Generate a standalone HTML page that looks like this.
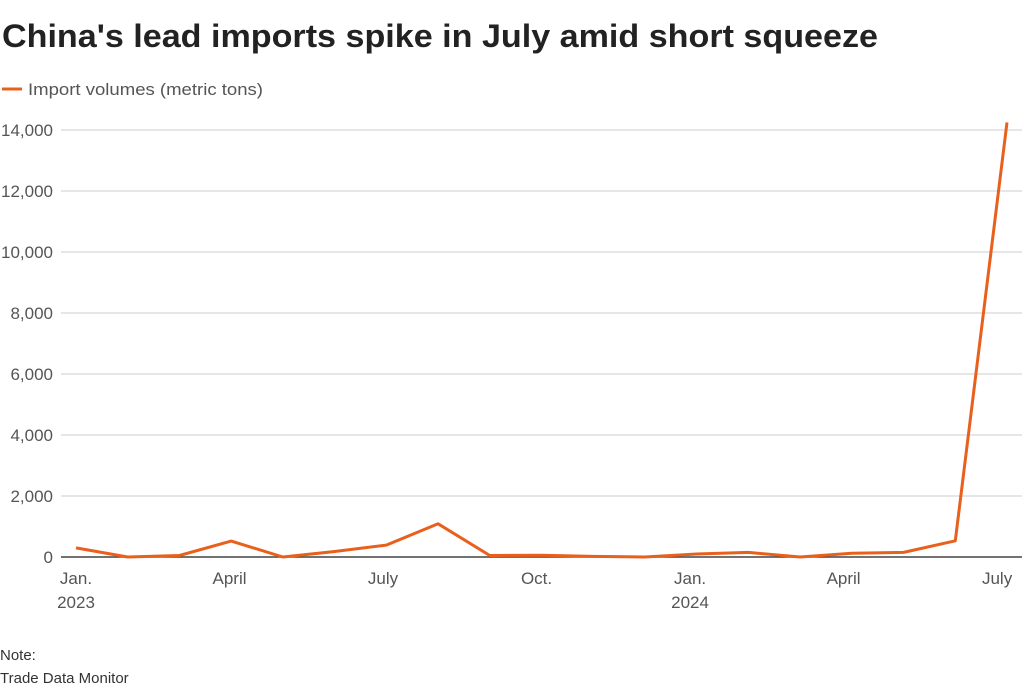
<!DOCTYPE html>
<html><head><meta charset="utf-8">
<style>
body{margin:0;background:#fff;font-family:"Liberation Sans",sans-serif;}
svg text{font-family:"Liberation Sans",sans-serif;}
</style></head>
<body>
<svg id="chart" width="1024" height="694" viewBox="0 0 1024 694">
  <text x="2" y="47" font-size="32" font-weight="bold" fill="#222" textLength="876" lengthAdjust="spacingAndGlyphs">China's lead imports spike in July amid short squeeze</text>
  <g>
    <line x1="2" y1="89" x2="22" y2="89" stroke="#e8601c" stroke-width="3"/>
    <text x="28" y="95" font-size="17" fill="#555" textLength="235" lengthAdjust="spacingAndGlyphs">Import volumes (metric tons)</text>
  </g>
  <g id="grid"></g>
  <g id="xticks"></g>
  <path id="line" fill="none" stroke="#e8601c" stroke-width="3" stroke-linejoin="round"/>
  <text x="0" y="660" font-size="15" fill="#333">Note:</text>
  <text x="0" y="683" font-size="15" fill="#333">Trade Data Monitor</text>
</svg>
<script>
const months = ["Jan23","Feb23","Mar23","Apr23","May23","Jun23","Jul23","Aug23","Sep23","Oct23","Nov23","Dec23","Jan24","Feb24","Mar24","Apr24","May24","Jun24","Jul24"];
const values = [300,0,50,520,0,180,390,1090,50,60,20,0,100,150,0,120,150,530,14250];
const yTicks = [0,2000,4000,6000,8000,10000,12000,14000];
const yTickLabels = ["0","2,000","4,000","6,000","8,000","10,000","12,000","14,000"];
const xTickIdx = [0,3,6,9,12,15,18];
const xTickLabels = ["Jan.","April","July","Oct.","Jan.","April","July"];
const xTickSub = ["2023","","","","2024","",""];

const NS="http://www.w3.org/2000/svg";
const x = i => 76 + i*(1007-76)/18;
const y = v => 557 - v*(557-130)/14000;
const grid=document.getElementById('grid');
yTicks.forEach((t,k)=>{
  const l=document.createElementNS(NS,'line');
  
  
  l.setAttribute('x1',61);l.setAttribute('x2',1022);
  l.setAttribute('y1',y(t));l.setAttribute('y2',y(t));
  l.setAttribute('stroke',t===0?'#444':'#ccc');l.setAttribute('stroke-width',t===0?1.5:1);
  grid.appendChild(l);
  const tx=document.createElementNS(NS,'text');
  
  
  tx.setAttribute('x',53);tx.setAttribute('y',y(t)+6);
  tx.setAttribute('text-anchor','end');tx.setAttribute('font-size','17');tx.setAttribute('fill','#555');
  tx.textContent=yTickLabels[k];grid.appendChild(tx);
});
const xt=document.getElementById('xticks');
xTickIdx.forEach((i,k)=>{
  const px=x(i)-i*0.55;
  const tx=document.createElementNS(NS,'text');
  
  
  tx.setAttribute('x',px);tx.setAttribute('y',584);
  tx.setAttribute('text-anchor','middle');tx.setAttribute('font-size','17');tx.setAttribute('fill','#555');
  tx.textContent=xTickLabels[k];xt.appendChild(tx);
  if(xTickSub[k]){
    const s=document.createElementNS(NS,'text');
    
    
    s.setAttribute('x',px);s.setAttribute('y',608);
    s.setAttribute('text-anchor','middle');s.setAttribute('font-size','17');s.setAttribute('fill','#555');
    s.textContent=xTickSub[k];xt.appendChild(s);
  }
});
document.getElementById('line').setAttribute('d',values.map((v,i)=>(i?'L':'M')+x(i).toFixed(1)+','+y(v).toFixed(1)).join(''));
</script>
</body></html>
